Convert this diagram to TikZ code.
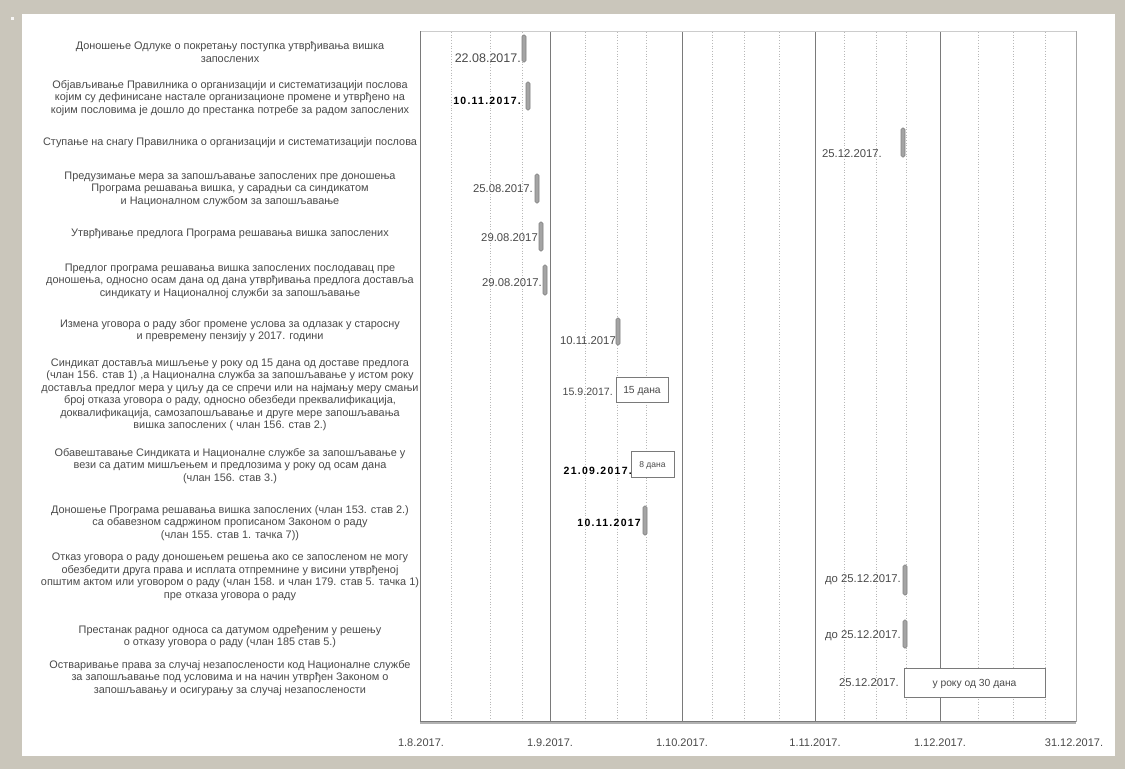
\documentclass[tikz,border=0pt]{standalone}
\usepackage{fontspec}
\setmainfont{Liberation Sans}
\newfontfamily\spacedbold[LetterSpace=12]{Liberation Sans}
\definecolor{framebg}{HTML}{CAC6BB}
\definecolor{txt}{HTML}{4A4A4A}
\definecolor{monthline}{HTML}{7A7A7A}
\definecolor{gridc}{HTML}{B8B8B8}
\definecolor{barfill}{HTML}{A4A4A4}
\definecolor{bardraw}{HTML}{808080}
\tikzset{
  lbl/.style={align=center, inner sep=0pt, text=txt, font=\fontsize{10.9}{12.5}\selectfont},
  datelbl/.style={anchor=east, inner sep=0pt, text=txt, font=\fontsize{11.3}{12}\selectfont},
  datebold/.style={anchor=east, inner sep=0pt, text=black, font=\fontsize{10.5}{12}\selectfont\spacedbold\bfseries},
  axlbl/.style={inner sep=0pt, text=txt, font=\fontsize{11}{12}\selectfont},
  bar/.style={draw=bardraw, fill=barfill, rounded corners=1.5pt, minimum width=4pt, inner sep=0pt, line width=0.6pt},
  durbox/.style={draw=monthline, fill=white, line width=0.9pt, inner sep=0pt, text=txt, text height=1.6ex, text depth=0.1ex, font=\fontsize{10.3}{12}\selectfont},
  gridln/.style={gridc, dotted, line width=0.7pt},
  monthln/.style={monthline, line width=1pt}
}
\begin{document}
\begin{tikzpicture}[x=1pt,y=-1pt]
\useasboundingbox (0,0) rectangle (1125,769);
% frame and panel
\fill[framebg] (0,0) rectangle (1125,769);
\fill[white] (22,14) rectangle (1115,756);
\fill[white!85!framebg] (11,17) rectangle (14,20);
% plot area
\fill[white] (420,31) rectangle (1076,722);
\foreach \x in {451,490,522,585,617,646,712,744,779,844,876,906,978,1013,1045}
  \draw[gridln] (\x,32) -- (\x,721);
\foreach \x in {550,682,815,940}
  \draw[monthln] (\x,31) -- (\x,722);
\draw[gray!40, line width=0.6pt] (420,31) -- (1076,31);
\draw[monthline, line width=1pt] (420,31) -- (420,722);
\draw[gray!70, line width=1pt] (1076,31) -- (1076,722);
\draw[gray!60, line width=3pt] (420,722) -- (1076,722);
\draw[monthline, line width=0.8pt] (420,721) -- (1076,721);
% axis labels
\node[axlbl] (a1) at (421,743) {1.8.2017.};
\node[axlbl] (a2) at (550,743) {1.9.2017.};
\node[axlbl] (a3) at (682,743) {1.10.2017.};
\node[axlbl] (a4) at (815,743) {1.11.2017.};
\node[axlbl] (a5) at (940,743) {1.12.2017.};
\node[axlbl] (a6) at (1074,743) {31.12.2017.};
% row labels
\node[lbl] (l1) at (230,52) {Доношење Одлуке о покретању поступка утврђивања вишка\\запослених};
\node[lbl] (l2) at (230,98) {Објављивање Правилника о организацији и систематизацији послова\\којим су дефинисане настале организационе промене и утврђено на\\којим пословима је дошло до престанка потребе за радом запослених};
\node[lbl] (l3) at (230,143) {Ступање на снагу Правилника о организацији и систематизацији послова};
\node[lbl] (l4) at (230,189) {Предузимање мера за запошљавање запослених пре доношења\\Програма решавања вишка, у сарадњи са синдикатом\\и Националном службом за запошљавање};
\node[lbl] (l5) at (230,234) {Утврђивање предлога Програма решавања вишка запослених};
\node[lbl] (l6) at (230,281) {Предлог програма решавања вишка запослених послодавац пре\\доношења, односно осам дана од дана утврђивања предлога доставља\\синдикату и Националној служби за запошљавање};
\node[lbl] (l7) at (230,330.5) {Измена уговора о раду због промене услова за одлазак у старосну\\и превремену пензију у 2017. години};
\node[lbl] (l8) at (230,395) {Синдикат доставља мишљење у року од 15 дана од доставе предлога\\(члан 156. став 1) ,а Национална служба за запошљавање у истом року\\доставља предлог мера у циљу да се спречи или на најмању меру смањи\\број отказа уговора о раду, односно обезбеди преквалификација,\\доквалификација, самозапошљавање и друге мере запошљавања\\вишка запослених ( члан 156. став 2.)};
\node[lbl] (l9) at (230,466) {Обавештавање Синдиката и Националне службе за запошљавање у\\вези са датим мишљењем и предлозима у року од осам дана\\(члан 156. став 3.)};
\node[lbl] (l10) at (230,523) {Доношење Програма решавања вишка запослених (члан 153. став 2.)\\са обавезном садржином прописаном Законом о раду\\(члан 155. став 1. тачка 7))};
\node[lbl] (l11) at (230,577) {Отказ уговора о раду доношењем решења ако се запосленом не могу\\обезбедити друга права и исплата отпремнине у висини утврђеној\\општим актом или уговором о раду (члан 158. и члан 179. став 5. тачка 1)\\пре отказа уговора о раду};
\node[lbl] (l12) at (230,636.5) {Престанак радног односа са датумом одређеним у решењу\\о отказу уговора о раду (члан 185 став 5.)};
\node[lbl] (l13) at (230,678) {Остваривање права за случај незапослености код Националне службе\\за запошљавање под условима и на начин утврђен Законом о\\запошљавању и осигурању за случај незапослености};
% bars
\node[bar, minimum height=27pt] (b1) at (524,48.5) {};
\node[bar, minimum height=28pt] (b2) at (528,96) {};
\node[bar, minimum height=29pt] (b3) at (903,142.5) {};
\node[bar, minimum height=29pt] (b4) at (537,188.5) {};
\node[bar, minimum height=29pt] (b5) at (541,236.5) {};
\node[bar, minimum height=30pt] (b6) at (545,280) {};
\node[bar, minimum height=27pt] (b7) at (618,331.5) {};
\node[bar, minimum height=29pt] (b10) at (645,520.5) {};
\node[bar, minimum height=30pt] (b11) at (905,580) {};
\node[bar, minimum height=28pt] (b12) at (905,634) {};
% duration boxes
\node[durbox, minimum width=52pt, minimum height=25pt] (d8) at (642,389.5) {15 дана};
\node[durbox, minimum width=43pt, minimum height=26pt, font=\fontsize{8.5}{10}\selectfont] (d9) at (652.5,464) {8 дана};
\node[durbox, minimum width=141pt, minimum height=29pt] (d13) at (974.5,682.5) {у року од 30 дана};
% date labels
\node[datelbl, font=\fontsize{12.5}{13}\selectfont] (t1) at (521,58) {22.08.2017.};
\node[datebold] (t2) at (521,101) {10.11.2017.};
\node[datelbl] (t3) at (882,154) {25.12.2017.};
\node[datelbl] (t4) at (533,189) {25.08.2017.};
\node[datelbl] (t5) at (538,238) {29.08.2017};
\node[datelbl] (t6) at (542,283) {29.08.2017.};
\node[datelbl] (t7) at (616,341) {10.11.2017};
\node[datelbl, font=\fontsize{10.6}{12}\selectfont] (t8) at (613,392) {15.9.2017.};
\node[datebold] (t9) at (632,471) {21.09.2017.};
\node[datebold] (t10) at (641,523) {10.11.2017};
\node[datelbl] (t11) at (901,580) {до 25.12.2017.};
\node[datelbl] (t12) at (901,636) {до 25.12.2017.};
\node[datelbl] (t13) at (899,683) {25.12.2017.};
\end{tikzpicture}
\end{document}
